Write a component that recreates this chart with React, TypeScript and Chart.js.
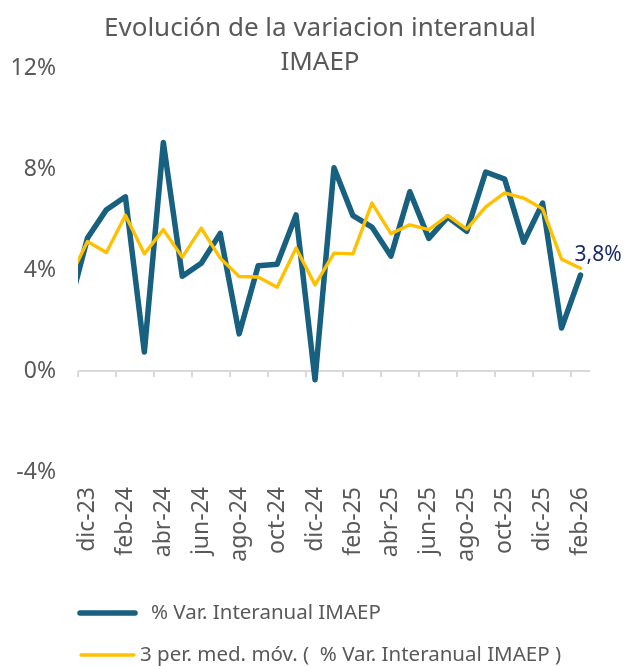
import React, { useEffect, useRef } from 'react';
import { Chart, registerables } from 'chart.js';

Chart.register(...registerables);

// ---- data ----
const months = [
  'nov-23', 'dic-23', 'ene-24', 'feb-24', 'mar-24', 'abr-24', 'may-24', 'jun-24', 'jul-24',
  'ago-24', 'sep-24', 'oct-24', 'nov-24', 'dic-24', 'ene-25', 'feb-25', 'mar-25', 'abr-25',
  'may-25', 'jun-25', 'jul-25', 'ago-25', 'sep-25', 'oct-25', 'nov-25', 'dic-25', 'ene-26', 'feb-26',
];
const varInteranual = [
  2.4, 5.27, 6.39, 6.9, 0.75, 9.05, 3.75, 4.27, 5.45, 1.47, 4.17, 4.23, 6.18, -0.35,
  8.05, 6.15, 5.7, 4.55, 7.1, 5.25, 6.1, 5.53, 7.88, 7.6, 5.1, 6.65, 1.7, 3.8,
];
const mediaMovil = [
  3.6, 5.13, 4.69, 6.17, 4.64, 5.6, 4.51, 5.66, 4.47, 3.74, 3.72, 3.32, 4.87, 3.41,
  4.67, 4.64, 6.65, 5.44, 5.79, 5.6, 6.15, 5.62, 6.5, 7.05, 6.85, 6.42, 4.43, 4.07,
];
const yTicks = [-4, 0, 4, 8, 12];
const titleLines = ['Evolución de la variacion interanual', 'IMAEP'];
const seriesNames = ['% Var. Interanual IMAEP', '3 per. med. móv. (  % Var. Interanual IMAEP )'];
const lastLabel = '3,8%';
const firstShown = 'dic-23';

// ---- style ----
const FONT = '"Noto Sans", sans-serif';
const GREY = '#595959';
const BLUE = '#17607f';
const YELLOW = '#ffc000';
const NAVY = '#1b2a68';

const decor = {
  id: 'decor',
  beforeDatasetsDraw(chart: any) {
    const { ctx, chartArea, scales } = chart;
    const x = scales.x;
    const y = scales.y;
    const y0 = y.getPixelForValue(0);
    const step = x.getPixelForValue(x.min + 1) - x.getPixelForValue(x.min);
    ctx.save();
    ctx.strokeStyle = '#d9d9d9';
    ctx.lineWidth = 2;
    ctx.beginPath();
    ctx.moveTo(chartArea.left, y0);
    ctx.lineTo(chartArea.right, y0);
    for (let v = x.min; v <= x.max; v += 2) {
      const px = Math.round(x.getPixelForValue(v) - step / 2);
      ctx.moveTo(px, y0);
      ctx.lineTo(px, y0 + 6);
    }
    ctx.stroke();
    ctx.restore();
  },
  afterDraw(chart: any) {
    const { ctx } = chart;
    ctx.save();
    // title
    ctx.fillStyle = GREY;
    ctx.font = `26px ${FONT}`;
    ctx.textAlign = 'center';
    ctx.textBaseline = 'alphabetic';
    ctx.fillText(titleLines[0], 320, 36);
    ctx.fillText(titleLines[1], 320, 70);

    // data label on last point
    const meta = chart.getDatasetMeta(0);
    const pt = meta.data[meta.data.length - 1];
    ctx.fillStyle = NAVY;
    ctx.font = `21px ${FONT}`;
    ctx.textAlign = 'left';
    ctx.textBaseline = 'middle';
    ctx.fillText(lastLabel, pt.x - 6, pt.y - 20);

    // legend
    const rows = [
      { color: BLUE, width: 5.5, x0: 80, x1: 135, tx: 151, y: 613 },
      { color: YELLOW, width: 3.4, x0: 81, x1: 134, tx: 140, y: 655 },
    ];
    ctx.font = `20.5px ${FONT}`;
    ctx.lineCap = 'round';
    rows.forEach((r, i) => {
      ctx.strokeStyle = r.color;
      ctx.lineWidth = r.width;
      ctx.beginPath();
      ctx.moveTo(r.x0, r.y);
      ctx.lineTo(r.x1, r.y);
      ctx.stroke();
      ctx.fillStyle = GREY;
      ctx.fillText(seriesNames[i], r.tx, r.y);
    });
    ctx.restore();
  },
};

export default function App() {
  const ref = useRef<HTMLCanvasElement | null>(null);

  useEffect(() => {
    if (!ref.current) return;
    Chart.defaults.font.family = FONT;
    const chart = new Chart(ref.current, {
      type: 'line',
      data: {
        labels: months,
        datasets: [
          {
            label: seriesNames[0],
            data: varInteranual,
            borderColor: BLUE,
            backgroundColor: BLUE,
            borderWidth: 5.5,
            pointRadius: 0,
            tension: 0,
            borderJoinStyle: 'round',
            borderCapStyle: 'round',
            order: 2,
          },
          {
            label: seriesNames[1],
            data: mediaMovil,
            borderColor: YELLOW,
            backgroundColor: YELLOW,
            borderWidth: 3.4,
            pointRadius: 0,
            tension: 0,
            borderJoinStyle: 'round',
            borderCapStyle: 'round',
            order: 1,
          },
        ],
      },
      options: {
        responsive: false,
        animation: false,
        layout: { padding: { top: 68, right: 34, left: 0, bottom: 0 } },
        plugins: {
          legend: { display: false },
          title: { display: false },
          tooltip: { enabled: false },
        },
        scales: {
          x: {
            type: 'category',
            min: firstShown,
            offset: true,
            grid: { display: false, drawTicks: false },
            border: { display: false },
            ticks: {
              autoSkip: false,
              minRotation: 90,
              maxRotation: 90,
              padding: 15,
              color: GREY,
              font: { size: 23, family: FONT },
              callback: function (this: any, value: any) {
                return (Number(value) - 1) % 2 === 0 ? this.getLabelForValue(value) : '';
              },
            },
            afterFit: (s: any) => {
              s.height = 194;
            },
          },
          y: {
            min: -4,
            max: 12,
            grid: { display: false, drawTicks: false },
            border: { display: false },
            afterBuildTicks: (s: any) => {
              s.ticks = yTicks.map((v) => ({ value: v }));
            },
            ticks: {
              padding: 22,
              color: GREY,
              font: { size: 23, family: FONT },
              callback: (v: any) => `${v}%`,
            },
            afterFit: (s: any) => {
              s.width = 78;
            },
          },
        },
      },
      plugins: [decor],
    } as any);
    return () => chart.destroy();
  }, []);

  return (
    <div style={{ position: 'fixed', left: 0, top: 0, width: 624, height: 666 }}>
      <canvas ref={ref} width={624} height={666} style={{ display: 'block' }} />
    </div>
  );
}
